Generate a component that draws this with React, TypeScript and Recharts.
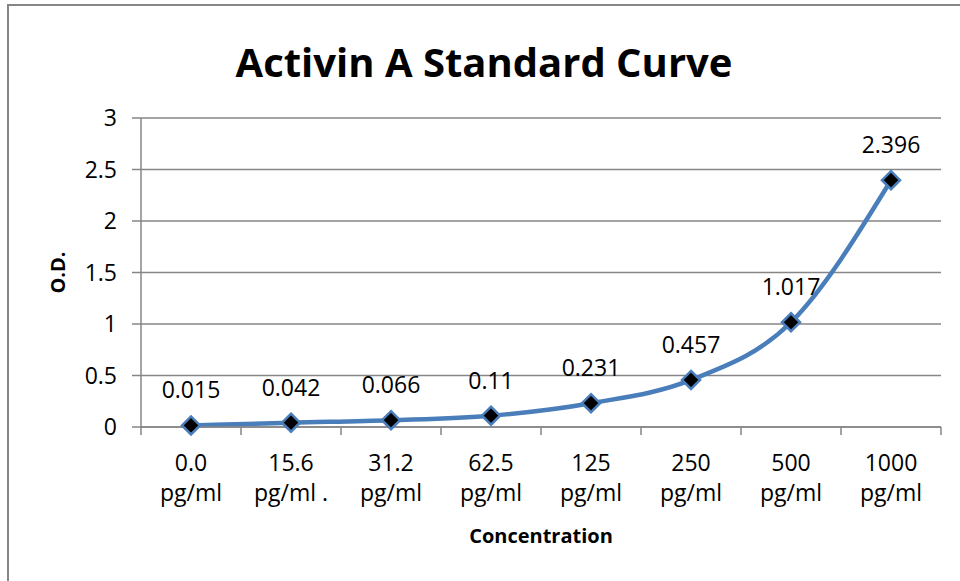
import React from 'react';
import { LineChart, Line, XAxis, YAxis, CartesianGrid, LabelList, Label } from 'recharts';

const concentrations = ['0.0', '15.6', '31.2', '62.5', '125', '250', '500', '1000'];
const units = ['pg/ml', 'pg/ml .', 'pg/ml', 'pg/ml', 'pg/ml', 'pg/ml', 'pg/ml', 'pg/ml'];
const odValues = [0.015, 0.042, 0.066, 0.11, 0.231, 0.457, 1.017, 2.396];
const yTicks = [0, 0.5, 1, 1.5, 2, 2.5, 3];

const data = concentrations.map((c, i) => ({ conc: c, unit: units[i], od: odValues[i] }));

const FONT = '"Open Sans", sans-serif';
const GRAY = '#868686';
const BLUE = '#4A7EBB';
// plot area is 800px wide, one band per category
const BAND = 800 / concentrations.length;

const ConcTick = (props: any) => {
  const { x, y, index } = props;
  const last = index === concentrations.length - 1;
  return (
    <g>
      <line x1={x - BAND / 2} x2={x - BAND / 2} y1={y} y2={y + 8} stroke={GRAY} strokeWidth={1.5} />
      {last && <line x1={x + BAND / 2} x2={x + BAND / 2} y1={y} y2={y + 8} stroke={GRAY} strokeWidth={1.5} />}
      <text x={x} y={y + 44} textAnchor="middle" fontSize={23} fontFamily={FONT} fill="#000">
        {concentrations[index]}
      </text>
      <text x={x} y={y + 74} textAnchor="middle" fontSize={23} fontFamily={FONT} fill="#000">
        {units[index]}
      </text>
    </g>
  );
};

const Diamond = (props: any) => {
  const { cx, cy, index } = props;
  const r = 9;
  return (
    <polygon
      key={`d-${index}`}
      points={`${cx},${cy - r} ${cx + r},${cy} ${cx},${cy + r} ${cx - r},${cy}`}
      fill="#000"
      stroke={BLUE}
      strokeWidth={2.5}
    />
  );
};

const App: React.FC = () => {
  return (
    <div style={{ position: 'absolute', left: 0, top: 0, width: 960, height: 581, background: '#fff', overflow: 'hidden' }}>
      <div
        style={{
          position: 'absolute',
          left: 7,
          top: 4,
          width: 980,
          height: 600,
          borderTop: `2px solid ${GRAY}`,
          borderLeft: `2px solid ${GRAY}`,
        }}
      />
      <div
        style={{
          position: 'absolute',
          left: 0,
          top: 42,
          width: 968,
          textAlign: 'center',
          fontFamily: FONT,
          fontWeight: 700,
          fontSize: 40,
          lineHeight: '40px',
          color: '#000',
        }}
      >
        Activin A Standard Curve
      </div>
      <div style={{ position: 'absolute', left: 0, top: 0 }}>
        <LineChart width={960} height={581} data={data} margin={{ top: 118, right: 19, bottom: 54, left: 0 }}>
          <CartesianGrid vertical={false} stroke={GRAY} strokeWidth={1.5} />
          <XAxis
            dataKey="conc"
            height={100}
            padding={{ left: BAND / 2, right: BAND / 2 }}
            axisLine={{ stroke: GRAY, strokeWidth: 1.5 }}
            tickLine={false}
            tickSize={0}
            tickMargin={0}
            interval={0}
            tick={<ConcTick />}
          >
            <Label
              value="Concentration"
              position="insideBottom"
              offset={-16}
              style={{ fontFamily: FONT, fontWeight: 700, fontSize: 20, fill: '#000' }}
            />
          </XAxis>
          <YAxis
            width={141}
            domain={[0, 3]}
            ticks={yTicks}
            axisLine={{ stroke: GRAY, strokeWidth: 1.5 }}
            tickLine={{ stroke: GRAY, strokeWidth: 1.5 }}
            tickSize={9}
            tickMargin={15}
            tick={{ fontSize: 23, fontFamily: FONT, fill: '#000' }}
          >
            <Label
              value="O.D."
              angle={-90}
              position="insideLeft"
              offset={58}
              style={{ textAnchor: 'middle', fontFamily: FONT, fontWeight: 700, fontSize: 20, fill: '#000' }}
            />
          </YAxis>
          <Line
            type="monotone"
            dataKey="od"
            stroke={BLUE}
            strokeWidth={4.5}
            dot={(p: any) => <Diamond key={`dot-${p.index}`} {...p} />}
            activeDot={false}
            isAnimationActive={false}
          >
            <LabelList dataKey="od" position="top" offset={27} fontSize={23} fontFamily={FONT} fill="#000" />
          </Line>
        </LineChart>
      </div>
    </div>
  );
};

export default App;
